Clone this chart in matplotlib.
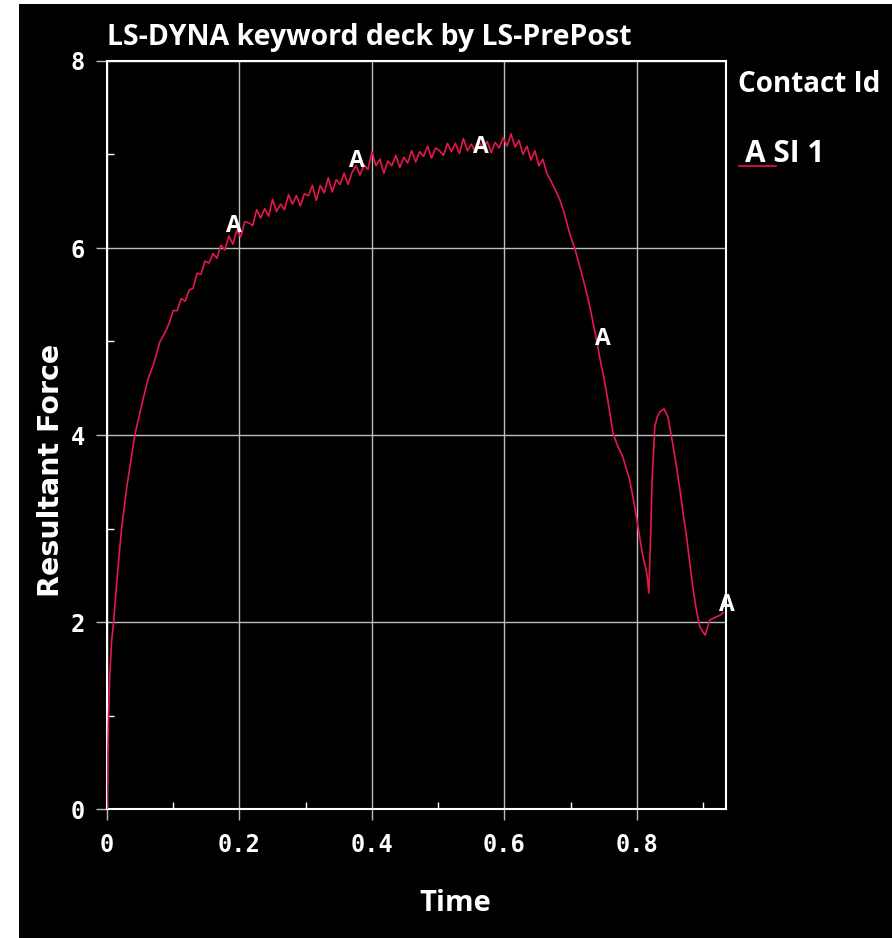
import numpy as np
import matplotlib
matplotlib.use("Agg")
import matplotlib.pyplot as plt
from matplotlib.patches import Rectangle
from matplotlib.lines import Line2D
from matplotlib.ticker import MultipleLocator

# ------------------------------------------------------------
# data (contact SI 1)
# ------------------------------------------------------------
time = [
    0.000, 0.002, 0.004, 0.007, 0.010, 0.015, 0.022, 0.030, 0.042, 0.054,
    0.062, 0.070, 0.080, 0.088, 0.094,
    0.100, 0.106, 0.112, 0.118, 0.124, 0.130, 0.136, 0.142, 0.148, 0.154,
    0.160, 0.166, 0.172, 0.178, 0.184, 0.190, 0.196, 0.202, 0.208, 0.214,
    0.220, 0.226, 0.232, 0.238, 0.244, 0.250, 0.256, 0.262, 0.268, 0.274,
    0.280, 0.286, 0.292, 0.298, 0.304, 0.310, 0.316, 0.322, 0.328, 0.334,
    0.340, 0.346, 0.352, 0.358, 0.364, 0.370, 0.376, 0.382, 0.388, 0.394,
    0.400, 0.406, 0.412, 0.418, 0.424, 0.430, 0.436, 0.442, 0.448, 0.454,
    0.460, 0.466, 0.472, 0.478, 0.484, 0.490, 0.496, 0.502, 0.508, 0.514,
    0.520, 0.526, 0.532, 0.538, 0.544, 0.550, 0.556, 0.562, 0.568, 0.574,
    0.580, 0.586, 0.592, 0.598, 0.604, 0.610, 0.616, 0.622, 0.628, 0.634,
    0.640, 0.646, 0.652, 0.658, 0.664,
    0.670, 0.677, 0.684, 0.690, 0.696, 0.701, 0.706, 0.712, 0.718, 0.724,
    0.729, 0.735, 0.741, 0.746, 0.750, 0.755, 0.760, 0.764, 0.770, 0.779,
    0.784, 0.789, 0.795, 0.800, 0.808, 0.815, 0.818, 0.821, 0.823, 0.827,
    0.831, 0.835, 0.841, 0.847, 0.854, 0.860, 0.865, 0.870, 0.875, 0.880,
    0.885, 0.890, 0.895, 0.900, 0.903, 0.907, 0.910, 0.918, 0.925, 0.930,
]
force = [
    0.00, 0.90, 1.40, 1.80, 2.00, 2.45, 3.00, 3.45, 4.00, 4.37,
    4.60, 4.75, 5.00, 5.10, 5.20,
    5.33, 5.33, 5.46, 5.43, 5.55, 5.57, 5.73, 5.72, 5.86, 5.84,
    5.94, 5.89, 6.03, 5.98, 6.13, 6.04, 6.19, 6.12, 6.28, 6.27,
    6.24, 6.41, 6.32, 6.42, 6.34, 6.52, 6.39, 6.47, 6.41, 6.57,
    6.47, 6.56, 6.45, 6.58, 6.56, 6.67, 6.51, 6.67, 6.59, 6.75,
    6.60, 6.73, 6.68, 6.80, 6.68, 6.81, 6.88, 6.78, 6.89, 6.84,
    7.03, 6.88, 6.95, 6.80, 6.93, 6.88, 6.99, 6.86, 6.97, 6.91,
    7.04, 6.92, 7.03, 6.98, 7.09, 6.96, 7.07, 7.04, 6.99, 7.12,
    7.03, 7.12, 7.01, 7.17, 7.04, 7.11, 7.03, 7.13, 7.06, 7.14,
    7.02, 7.13, 7.07, 7.18, 7.09, 7.22, 7.08, 7.15, 7.00, 7.09,
    6.94, 7.04, 6.88, 6.95, 6.80,
    6.72, 6.62, 6.51, 6.38, 6.22, 6.10, 6.00, 5.85, 5.69, 5.52,
    5.37, 5.16, 4.94, 4.75, 4.62, 4.42, 4.20, 4.02, 3.90, 3.76,
    3.64, 3.52, 3.30, 3.09, 2.74, 2.52, 2.31, 3.00, 3.52, 4.09,
    4.20, 4.25, 4.28, 4.19, 3.91, 3.65, 3.41, 3.15, 2.91, 2.62,
    2.34, 2.12, 1.95, 1.89, 1.86, 1.95, 2.02, 2.05, 2.07, 2.10,
]

# curve label "A" positions (as drawn by LS-PrePost)
label_t = [0.192, 0.377, 0.565, 0.749, 0.936]
label_f = [6.24, 6.93, 7.08, 5.03, 2.18]

x_ticks = [0, 0.2, 0.4, 0.6, 0.8]
x_ticklabels = ["0", "0.2", "0.4", "0.6", "0.8"]
y_ticks = [0, 2, 4, 6, 8]
y_ticklabels = ["0", "2", "4", "6", "8"]

RED = "#e4184a"
GRID = "#bdbdbd"
LABEL_FONT = "Open Sans"
TICK_FONT = "DejaVu Sans Mono"

# ------------------------------------------------------------
# figure
# ------------------------------------------------------------
fig = plt.figure(figsize=(8.92, 9.38), dpi=100, facecolor="white")
# black drawing area (white strip on left / top like the screenshot)
fig.patches.append(Rectangle((19 / 892, 0), 1 - 19 / 892, 1 - 4 / 938,
                             transform=fig.transFigure, facecolor="black",
                             edgecolor="none", zorder=-10))

ax = fig.add_axes([107 / 892, 1 - 809 / 938, (726 - 107) / 892, (809 - 61) / 938])
ax.set_facecolor("black")

ax.plot(time, force, color=RED, linewidth=1.2, zorder=3)

for t, f in zip(label_t, label_f):
    ax.text(t, f, "A", color="white", fontsize=16.5, fontweight="bold",
            family=LABEL_FONT, ha="center", va="center", zorder=4,
            clip_on=False)

ax.set_xlim(0, 0.9345)
ax.set_ylim(0, 8)

ax.set_xticks(x_ticks)
ax.set_xticklabels(x_ticklabels)
ax.set_yticks(y_ticks)
ax.set_yticklabels(y_ticklabels)
ax.xaxis.set_minor_locator(MultipleLocator(0.1))
ax.yaxis.set_minor_locator(MultipleLocator(1))

ax.grid(True, which="major", color=GRID, linewidth=1.0)
ax.set_axisbelow(True)

for s in ax.spines.values():
    s.set_color("white")
    s.set_linewidth(1.5)

ax.tick_params(which="major", direction="out", length=8, width=1.0,
               color=GRID, labelcolor="white", labelsize=17)
ax.tick_params(axis="x", which="major", pad=9)
ax.tick_params(axis="y", which="major", pad=8)
ax.tick_params(which="minor", direction="in", length=5, width=1.0,
               color="white")
for lab in ax.get_xticklabels() + ax.get_yticklabels():
    lab.set_family(TICK_FONT)
    lab.set_fontweight("bold")

fig.text(107 / 892, 1 - 38 / 938, "LS-DYNA keyword deck by LS-PrePost",
         color="white", fontsize=20.5, fontweight="bold", family=LABEL_FONT,
         ha="left", va="center")

fig.text(455 / 892, 1 - 903 / 938, "Time", color="white", fontsize=21,
         fontweight="bold", family=LABEL_FONT, ha="center", va="center")
fig.text(51 / 892, 1 - 470 / 938, "Resultant Force", color="white",
         fontsize=20.5, fontweight="bold", family="DejaVu Sans", ha="center",
         va="center", rotation=90)

# legend block on the right
fig.text(738 / 892, 1 - 84 / 938, "Contact Id", color="white", fontsize=20,
         fontweight="bold", family=LABEL_FONT, ha="left", va="center")
fig.text(745 / 892, 1 - 154 / 938, "A SI 1", color="white", fontsize=21.5,
         fontweight="bold", family=LABEL_FONT, ha="left", va="center")
fig.lines.append(Line2D([739 / 892, 776 / 892], [1 - 166 / 938, 1 - 166 / 938],
                        transform=fig.transFigure, color=RED, linewidth=1.2))

fig.savefig("out.png", dpi=100, facecolor=fig.get_facecolor())
